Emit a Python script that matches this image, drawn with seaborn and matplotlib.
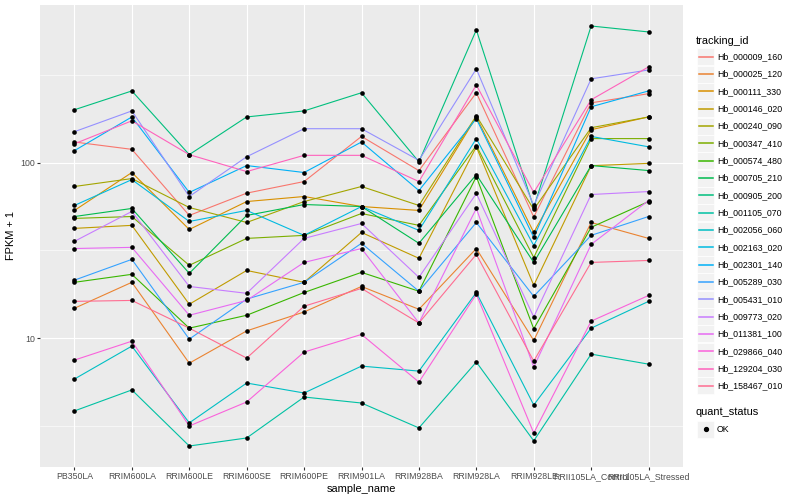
import matplotlib
matplotlib.use("Agg")
import numpy as np
import pandas as pd
import seaborn as sns
from matplotlib import pyplot as plt
from matplotlib.lines import Line2D
from matplotlib.patches import Rectangle
from matplotlib.ticker import FixedLocator, NullFormatter, NullLocator

SAMPLES = [
    "PB350LA", "RRIM600LA", "RRIM600LE", "RRIM600SE", "RRIM600PE", "RRIM901LA",
    "RRIM928BA", "RRIM928LA", "RRIM928LE", "RRII105LA_Control", "RRII105LA_Stressed",
]

TRACKING_IDS = [
    "Hb_000009_160", "Hb_000025_120", "Hb_000111_330", "Hb_000146_020", "Hb_000240_090",
    "Hb_000347_410", "Hb_000574_480", "Hb_000705_210", "Hb_000905_200", "Hb_001105_070",
    "Hb_002056_060", "Hb_002163_020", "Hb_002301_140", "Hb_005289_030", "Hb_005431_010",
    "Hb_009773_020", "Hb_011381_100", "Hb_029866_040", "Hb_129204_030", "Hb_158467_010",
]

# FPKM + 1, one list per tracking_id, in SAMPLES order
HB_000009_160 = [131, 119, 50, 67, 78, 141, 90, 250, 49, 219, 247]
HB_000025_120 = [14.8, 20.8, 7.2, 11.0, 14.1, 19.7, 14.6, 32.4, 9.7, 45.6, 37.0]
HB_000111_330 = [53.4, 87.8, 41.6, 60.0, 64.1, 56.2, 53.4, 182, 40.0, 154, 182]
HB_000146_020 = [42.2, 43.9, 15.6, 24.3, 20.8, 40.0, 28.5, 123, 20.0, 96, 99]
HB_000240_090 = [73.1, 81.1, 55.5, 45.6, 60.0, 73.1, 57.0, 185, 54.1, 158, 182]
HB_000347_410 = [48.1, 49.3, 26.0, 37.0, 38.5, 51.3, 43.9, 125, 28.8, 137, 137]
HB_000574_480 = [20.8, 23.1, 11.4, 13.5, 18.2, 23.7, 18.5, 83.2, 11.3, 42.8, 60.0]
HB_000705_210 = [49.3, 54.8, 23.4, 50.0, 57.7, 56.2, 34.7, 85.4, 27.0, 96.2, 90.1]
HB_000905_200 = [200, 256, 111, 182, 197, 250, 101, 570, 55.5, 600, 555]
HB_001105_070 = [3.85, 5.07, 2.43, 2.70, 4.62, 4.27, 3.08, 7.31, 2.60, 8.11, 7.11]
HB_002056_060 = [5.85, 9.01, 3.29, 5.55, 4.87, 6.93, 6.49, 18.2, 4.16, 11.4, 16.2]
HB_002163_020 = [57.0, 80.0, 46.2, 53.4, 38.5, 56.2, 41.1, 137, 33.7, 141, 123]
HB_002301_140 = [117, 182, 67.6, 96.2, 87.8, 131, 69.3, 178, 37.5, 208, 256]
HB_005289_030 = [21.4, 28.1, 9.87, 16.7, 20.8, 34.7, 18.5, 45.6, 17.3, 38.5, 49.3]
HB_005431_010 = [150, 197, 64.1, 108, 156, 156, 103, 342, 57.0, 300, 337]
HB_009773_020 = [35.6, 52.7, 19.7, 18.0, 37.0, 45.0, 22.2, 66.7, 13.2, 65.8, 68.4]
HB_011381_100 = [32.4, 32.9, 13.5, 16.4, 27.0, 32.4, 12.2, 54.8, 6.84, 34.2, 60.8]
HB_029866_040 = [7.5, 9.61, 3.16, 4.33, 8.33, 10.5, 5.62, 17.8, 2.88, 12.5, 17.5]
HB_129204_030 = [128, 173, 111, 88.9, 110, 110, 78.0, 277, 67.6, 228, 351]
HB_158467_010 = [16.2, 16.4, 11.4, 7.70, 15.2, 19.2, 12.2, 30.0, 7.40, 27.0, 27.7]

VALUES = [
    HB_000009_160, HB_000025_120, HB_000111_330, HB_000146_020, HB_000240_090,
    HB_000347_410, HB_000574_480, HB_000705_210, HB_000905_200, HB_001105_070,
    HB_002056_060, HB_002163_020, HB_002301_140, HB_005289_030, HB_005431_010,
    HB_009773_020, HB_011381_100, HB_029866_040, HB_129204_030, HB_158467_010,
]

QUANT_STATUS = ["OK"]

# ggplot2 default hue palette for 20 levels
PALETTE = [
    "#F8766D", "#EA8331", "#D89000", "#C09B00", "#A3A500", "#7CAE00", "#39B600",
    "#00BB4E", "#00BF7D", "#00C1A3", "#00BFC4", "#00BAE0", "#00B0F6", "#35A2FF",
    "#9590FF", "#C77CFF", "#E76BF3", "#FA62DB", "#FF62BC", "#FF6C91",
]

W, H = 800, 500


def fx(px):
    return px / W


def fy(py):
    return 1 - py / H


def legend_key(fig, yc):
    """Grey ggplot-style key box centred at pixel row yc."""
    fig.patches.append(Rectangle((fx(697), fy(yc + 8.5)), 17 / W, 17 / H,
                                 transform=fig.transFigure, facecolor="#F2F2F2",
                                 edgecolor="white", linewidth=0.5, zorder=1))


def main():
    rows = []
    for tid, vals in zip(TRACKING_IDS, VALUES):
        for s, v in zip(SAMPLES, vals):
            rows.append({"tracking_id": tid, "sample_name": s, "fpkm": v, "quant_status": QUANT_STATUS[0]})
    df = pd.DataFrame(rows)

    plt.rcParams["font.family"] = ["Liberation Sans", "DejaVu Sans"]

    fig, ax = plt.subplots(figsize=(8, 5), dpi=100)
    fig.subplots_adjust(left=fx(40), right=fx(683), top=fy(5), bottom=fy(467))
    ax.set_facecolor("#EBEBEB")

    sns.lineplot(
        data=df, x="sample_name", y="fpkm", hue="tracking_id", hue_order=TRACKING_IDS,
        palette=PALETTE, sort=False, estimator=None, errorbar=None, legend=False,
        linewidth=0.8, ax=ax, zorder=3,
    )
    sns.scatterplot(
        data=df, x="sample_name", y="fpkm", color="black", s=11, linewidth=0,
        legend=False, ax=ax, zorder=4,
    )

    ax.set_yscale("log")
    lo, hi = np.log10(df["fpkm"].min()), np.log10(df["fpkm"].max())
    pad = (hi - lo) * 0.05
    ax.set_ylim(10 ** (lo - pad), 10 ** (hi + pad))
    ax.set_xlim(-0.6, len(SAMPLES) - 0.4)

    ax.yaxis.set_major_locator(FixedLocator([10, 100]))
    ax.yaxis.set_minor_locator(FixedLocator([10 ** 0.5, 10 ** 1.5, 10 ** 2.5]))
    ax.yaxis.set_minor_formatter(NullFormatter())
    ax.set_yticklabels(["10", "100"])
    ax.xaxis.set_minor_locator(NullLocator())

    ax.grid(True, which="major", color="white", linewidth=0.8, zorder=0)
    ax.grid(True, which="minor", axis="y", color="white", linewidth=0.4, zorder=0)
    ax.set_axisbelow(True)
    for sp in ax.spines.values():
        sp.set_visible(False)

    ax.tick_params(axis="both", which="major", length=2.0, width=0.8, color="#333333",
                   labelcolor="#4D4D4D", labelsize=6.3, pad=1.6)
    ax.tick_params(axis="y", which="minor", length=0)

    ax.set_xlabel("sample_name", fontsize=7.9, color="black", labelpad=2)
    ax.set_ylabel("FPKM + 1", fontsize=7.9, color="black", labelpad=3)

    # legend: tracking_id
    fig.text(fx(696), fy(41.5), "tracking_id", fontsize=7.9, va="center", ha="left")
    for i, (tid, col) in enumerate(zip(TRACKING_IDS, PALETTE)):
        yc = 56.7 + 17.33 * i
        legend_key(fig, yc)
        fig.lines.append(Line2D([fx(698.5), fx(712.5)], [fy(yc), fy(yc)], transform=fig.transFigure,
                                color=col, linewidth=1.1, zorder=3))
        fig.text(fx(717), fy(yc), tid, fontsize=6.3, va="center", ha="left")

    # legend: quant_status
    fig.text(fx(696), fy(412), "quant_status", fontsize=7.9, va="center", ha="left")
    yc = 429
    legend_key(fig, yc)
    fig.lines.append(Line2D([fx(705.5)], [fy(yc)], transform=fig.transFigure, marker="o",
                            markersize=2.8, color="black", linestyle="none", zorder=3))
    fig.text(fx(717), fy(yc), QUANT_STATUS[0], fontsize=6.3, va="center", ha="left")

    fig.savefig("out.png", dpi=100, facecolor="white")
    plt.close(fig)


if __name__ == "__main__":
    main()
